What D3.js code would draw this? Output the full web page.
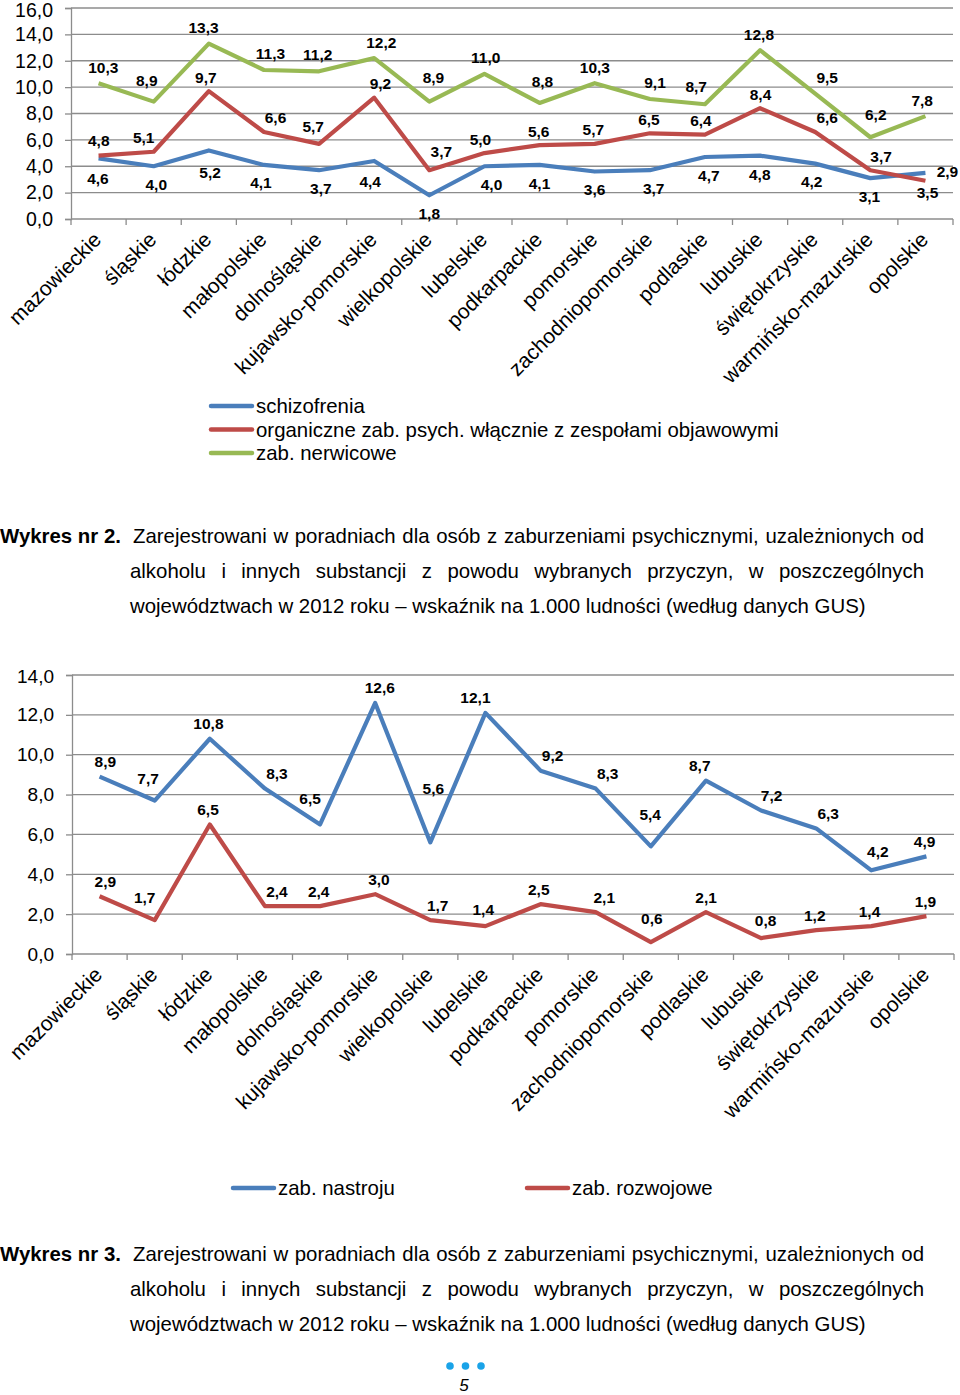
<!DOCTYPE html>
<html><head><meta charset="utf-8">
<script src="https://cdn.jsdelivr.net/npm/d3@7"></script>
<style>
body{margin:0;background:#fff}
svg{display:block}
text{font-family:"Liberation Sans",Arial,sans-serif;fill:#000}
</style>
</head><body>
<svg id="page" width="960" height="1395"></svg>
<script>
// ---------- DATA ----------
const regions = ["mazowieckie","śląskie","łódzkie","małopolskie","dolnośląskie","kujawsko-pomorskie","wielkopolskie","lubelskie","podkarpackie","pomorskie","zachodniopomorskie","podlaskie","lubuskie","świętokrzyskie","warmińsko-mazurskie","opolskie"];
const schizofrenia = [4.6,4.0,5.2,4.1,3.7,4.4,1.8,4.0,4.1,3.6,3.7,4.7,4.8,4.2,3.1,3.5];
const organiczne   = [4.8,5.1,9.7,6.6,5.7,9.2,3.7,5.0,5.6,5.7,6.5,6.4,8.4,6.6,3.7,2.9];
const nerwicowe    = [10.3,8.9,13.3,11.3,11.2,12.2,8.9,11.0,8.8,10.3,9.1,8.7,12.8,9.5,6.2,7.8];
const nastroju     = [8.9,7.7,10.8,8.3,6.5,12.6,5.6,12.1,9.2,8.3,5.4,8.7,7.2,6.3,4.2,4.9];
const rozwojowe    = [2.9,1.7,6.5,2.4,2.4,3.0,1.7,1.4,2.5,2.1,0.6,2.1,0.8,1.2,1.4,1.9];
const ticks1 = [0,2,4,6,8,10,12,14,16];
const ticks2 = [0,2,4,6,8,10,12,14];
const legend1 = ["schizofrenia","organiczne zab. psych. włącznie z zespołami objawowymi","zab. nerwicowe"];
const legend2 = ["zab. nastroju","zab. rozwojowe"];
const captionLines = ["Zarejestrowani w poradniach dla osób z zaburzeniami psychicznymi, uzależnionych od",
  "alkoholu i innych substancji z powodu wybranych przyczyn, w poszczególnych",
  "województwach w 2012 roku – wskaźnik na 1.000 ludności (według danych GUS)"];
const captionLabel2 = "Wykres nr 2.";
const captionLabel3 = "Wykres nr 3.";
const pageNumber = "5";

const BLUE = "#4a7ebb", RED = "#be4b48", GREEN = "#98b954", GRID = "#8c8c8c";
const fmt = v => d3.format(".1f")(v).replace(".", ",");
const svg = d3.select("#page");

function drawChart(cfg) {
  const g = svg.append("g");
  const x = d3.scaleBand().domain(regions).range([cfg.x0, cfg.x1]);
  const y = d3.scaleLinear().domain([0, d3.max(cfg.ticks)]).range([cfg.yb, cfg.yt]);
  const ppu = (cfg.yb - cfg.yt) / d3.max(cfg.ticks);
  g.selectAll("line.grid").data(cfg.ticks.slice(1)).join("line")
    .attr("x1", cfg.x0).attr("x2", cfg.x1)
    .attr("y1", d => y(d)).attr("y2", d => y(d))
    .attr("stroke", GRID).attr("stroke-width", 1.3);
  const ya = d3.axisLeft(y).tickValues(cfg.ticks).tickSize(6).tickPadding(12).tickFormat(fmt);
  const yg = g.append("g").attr("transform", `translate(${cfg.x0},0)`).call(ya);
  yg.select(".domain").attr("stroke", GRID).attr("stroke-width", 1.3);
  yg.selectAll(".tick line").attr("stroke", GRID).attr("stroke-width", 1.3);
  yg.selectAll(".tick text").attr("font-size", cfg.tickFont).attr("font-family", '"Liberation Sans",Arial,sans-serif').attr("fill", "#000")
    .attr("dy", d => (d === d3.max(cfg.ticks) ? "0.42em" : "0.32em"));
  const xg = g.append("g").attr("transform", `translate(0,${cfg.yb})`);
  xg.append("line").attr("x1", cfg.x0).attr("x2", cfg.x1).attr("stroke", GRID).attr("stroke-width", 1.3);
  const bounds = regions.map(r => x(r)).concat([cfg.x1]);
  xg.selectAll("line.tk").data(bounds).join("line")
    .attr("x1", d => d).attr("x2", d => d).attr("y1", 0).attr("y2", 6)
    .attr("stroke", GRID).attr("stroke-width", 1.3);
  xg.selectAll("text").data(regions).join("text")
    .attr("transform", d => `translate(${x(d) + x.bandwidth() / 2 + 4},${cfg.catDy}) rotate(-45)`)
    .attr("text-anchor", "end")
    .attr("font-size", 21)
    .text(d => d);
  const cx = i => x(regions[i]) + x.bandwidth() / 2;
  const line = d3.line().x((d, i) => cx(i)).y(d => y(d));
  cfg.series.forEach(s => {
    g.append("path").datum(s.values).attr("d", line)
      .attr("fill", "none").attr("stroke", s.color).attr("stroke-width", 4.2)
      .attr("stroke-linejoin", "round");
  });
  // label offsets: further away at V-shaped extremes, and shifted sideways away from the steeper segment
  const clearance = (vals, i, dir) => {
    const v = vals[i], nb = [vals[i - 1], vals[i + 1]].filter(n => n !== undefined);
    const m = d3.min(nb.map(n => dir < 0 ? n - v : v - n));
    return m > 0 ? m * ppu : 0;
  };
  const sideShift = (vals, i, dir) => {
    const l = i > 0 ? vals[i - 1] : vals[i];
    const r = i < vals.length - 1 ? vals[i + 1] : vals[i];
    const s = (dir < 0 ? -(r - l) : (r - l)) * ppu * 0.2;
    return Math.max(-11, Math.min(11, s));
  };
  cfg.series.forEach(s => {
    g.selectAll(null).data(s.values).join("text")
      .attr("x", (d, i) => {
        if (s.special && s.special(i)) return cx(i) + s.special(i)[0];
        return cx(i) + sideShift(s.values, i, s.side) + 1;
      })
      .attr("y", (d, i) => {
        if (s.special && s.special(i)) return y(d) + s.special(i)[1];
        const dir = s.side;
        return y(d) + dir * (s.base + 0.3 * Math.min(clearance(s.values, i, dir), 130));
      })
      .attr("text-anchor", "middle").attr("dominant-baseline", "central")
      .attr("font-size", 15.5).attr("font-weight", "bold")
      .text(d => fmt(d));
  });
}

drawChart({
  x0: 71, x1: 953, yb: 219, yt: 8, ticks: ticks1, tickFont: 19.5, catDy: 22,
  series: [
    {values: schizofrenia, color: BLUE, side: 1, base: 18},
    {values: organiczne, color: RED, side: -1, base: 14, special: i => (i === 15 ? [22, -9] : null)},
    {values: nerwicowe, color: GREEN, side: -1, base: 16}
  ]
});

drawChart({
  x0: 72, x1: 954, yb: 954, yt: 675, ticks: ticks2, tickFont: 19, catDy: 22,
  series: [
    {values: nastroju, color: BLUE, side: -1, base: 15},
    {values: rozwojowe, color: RED, side: -1, base: 15}
  ]
});

function legendItem(x, y, color, label) {
  svg.append("line").attr("x1", x).attr("x2", x + 41).attr("y1", y).attr("y2", y)
    .attr("stroke", color).attr("stroke-width", 4.5).attr("stroke-linecap", "round");
  svg.append("text").attr("x", x + 45).attr("y", y).attr("dominant-baseline", "central")
    .attr("font-size", 20.4).text(label);
}
const lc1 = [BLUE, RED, GREEN];
legend1.forEach((l, i) => legendItem(211, 406 + i * 23.5, lc1[i], l));
legendItem(233, 1188, BLUE, legend2[0]);
legendItem(527, 1188, RED, legend2[1]);

function justify(words, xa, xb, y, fs) {
  const nodes = words.map(w => svg.append("text").attr("y", y).attr("font-size", fs).text(w));
  const widths = nodes.map(n => n.node().getComputedTextLength());
  const gap = (xb - xa - d3.sum(widths)) / (words.length - 1);
  let xx = xa;
  nodes.forEach((n, i) => { n.attr("x", xx); xx += widths[i] + gap; });
}
function caption(label, y0) {
  const fs = 20.4, lh = 35, left = 130, right = 924;
  svg.append("text").attr("x", 0).attr("y", y0).attr("font-size", fs).attr("font-weight", "bold").text(label);
  justify(captionLines[0].split(" "), 133, right, y0, fs);
  justify(captionLines[1].split(" "), left, right, y0 + lh, fs);
  svg.append("text").attr("x", left).attr("y", y0 + 2 * lh).attr("font-size", fs).text(captionLines[2]);
}
caption(captionLabel2, 543);
caption(captionLabel3, 1261);

svg.selectAll("circle.dot").data([0, 1, 2]).join("circle")
  .attr("cx", d => 450 + d * 15.5).attr("cy", 1366).attr("r", 3.8).attr("fill", "#1aa3e8");
svg.append("text").attr("x", 464).attr("y", 1391).attr("text-anchor", "middle")
  .attr("font-size", 17).attr("font-style", "italic").text(pageNumber);
</script>
</body></html>
